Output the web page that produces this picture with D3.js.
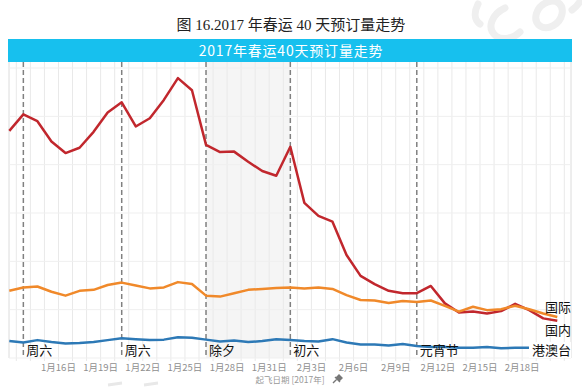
<!DOCTYPE html>
<html><head><meta charset="utf-8">
<script src="https://cdn.jsdelivr.net/npm/d3@7"></script>
<style>body{margin:0;background:#fff}svg{display:block}</style>
</head><body>
<svg id="c" width="582" height="389"></svg>
<script>
const dates = ["2017-01-13","2017-01-14","2017-01-15","2017-01-16","2017-01-17","2017-01-18","2017-01-19","2017-01-20","2017-01-21","2017-01-22",
"2017-01-23","2017-01-24","2017-01-25","2017-01-26","2017-01-27","2017-01-28","2017-01-29","2017-01-30","2017-01-31","2017-02-01",
"2017-02-02","2017-02-03","2017-02-04","2017-02-05","2017-02-06","2017-02-07","2017-02-08","2017-02-09","2017-02-10","2017-02-11",
"2017-02-12","2017-02-13","2017-02-14","2017-02-15","2017-02-16","2017-02-17","2017-02-18","2017-02-19","2017-02-20","2017-02-21"];
const domestic = [47.0,50.4,49.0,44.8,42.4,43.5,46.8,50.8,52.9,47.9,49.6,53.4,57.9,55.4,44.1,42.6,42.7,40.6,38.7,37.7,
43.7,32.1,29.4,28.2,21.3,17.0,15.3,13.9,13.4,13.4,14.9,11.3,9.4,9.6,9.2,9.7,11.2,9.9,8.2,7.7];
const international = [13.9,14.6,14.8,13.7,12.9,13.9,14.1,15.1,15.6,15.0,14.4,14.6,15.7,15.3,12.9,12.7,13.4,14.1,14.3,14.5,
14.6,14.4,14.6,14.3,13.0,12.0,11.9,11.4,11.8,11.6,11.9,10.8,9.6,10.6,9.9,10.1,10.8,10.1,9.2,8.5];
const hkMacauTw = [3.5,3.2,3.7,3.3,3.0,3.1,3.3,3.7,4.1,3.9,3.7,3.8,4.3,4.2,3.8,3.4,3.6,3.3,3.5,3.9,
3.7,3.5,3.4,3.9,3.2,2.8,2.8,2.6,2.9,2.5,2.3,2.3,2.1,2.1,2.3,2.0,2.1,2.1,2.0,2.0];
const seriesNames = ["国际","国内","港澳台"];
const events = [["2017-01-14","周六"],["2017-01-21","周六"],["2017-01-27","除夕"],["2017-02-02","初六"],["2017-02-11","元宵节"]];
const tickDates = ["2017-01-16","2017-01-19","2017-01-22","2017-01-25","2017-01-28","2017-01-31","2017-02-03","2017-02-06","2017-02-09","2017-02-12","2017-02-15","2017-02-18"];
const yTicks = [0,10,20,30,40,50,60];
const shadeRange = ["2017-01-27","2017-02-02"];

const parse = d3.utcParse("%Y-%m-%d");
const fmtTick = d => (d.getUTCMonth()+1) + "月" + d.getUTCDate() + "日";
const svg = d3.select("#c");
const plotL = 9, plotR = 571, plotT = 62, plotB = 358;
const x = d3.scaleUtc().domain([parse(dates[0]), parse(dates[dates.length-1])]).range([9.3, 557.3]);
const half = (x(parse(dates[1])) - x(parse(dates[0]))) / 2;
const y = d3.scaleLinear().domain([0, 60]).range([358, 68]);

// faint watermark strokes (decorative)
const wm = svg.append("g").attr("fill","none").attr("stroke","#efefef").attr("stroke-width",7).attr("stroke-linecap","round");
wm.append("path").attr("d","M505,8 C492,14 486,28 496,36 C503,41 514,38 520,32");
wm.append("path").attr("d","M548,2 C536,6 532,20 540,26 C548,31 560,24 562,14 C564,4 556,-1 548,2");
wm.append("path").attr("d","M478,4 C474,12 474,20 480,24");
wm.append("path").attr("d","M572,10 C578,6 581,0 582,-2");
const wm2 = svg.append("g").attr("fill","none").attr("stroke","#e8e8e8").attr("stroke-width",3);
wm2.append("path").attr("d","M108,385 L122,383");
wm2.append("path").attr("d","M144,385 L158,383");

// title
svg.append("text").attr("x",291).attr("y",30).attr("text-anchor","middle")
  .attr("font-family","'Liberation Serif','Noto Sans CJK SC',serif").attr("font-size",15).attr("fill","#222")
  .text("图 16.2017 年春运 40 天预订量走势");

// blue header
svg.append("rect").attr("x",8).attr("y",39).attr("width",564).attr("height",23).attr("fill","#17c0ee");
svg.append("text").attr("x",291).attr("y",55.5).attr("text-anchor","middle")
  .attr("font-family","'Noto Sans CJK SC',sans-serif").attr("font-size",14).attr("letter-spacing",0.8).attr("fill","#fff")
  .text("2017年春运40天预订量走势");

// shaded band
svg.append("rect").attr("x",x(parse(shadeRange[0]))).attr("y",plotT)
  .attr("width",x(parse(shadeRange[1]))-x(parse(shadeRange[0]))).attr("height",plotB-plotT).attr("fill","#f5f5f5");

// vertical gridlines at half days
const gx = svg.append("g");
dates.forEach(d => {
  const xv = x(parse(d)) + half;
  if (xv < plotR) gx.append("line").attr("x1",xv).attr("x2",xv).attr("y1",plotT).attr("y2",plotB+3)
    .attr("stroke","#e9e9e9").attr("stroke-width",1);
});
gx.append("line").attr("x1",plotL).attr("x2",plotL).attr("y1",plotT).attr("y2",plotB).attr("stroke","#dcdcdc");
gx.append("line").attr("x1",plotR).attr("x2",plotR).attr("y1",plotT).attr("y2",plotB).attr("stroke","#dcdcdc");
// horizontal gridlines
svg.append("g").selectAll("line").data(yTicks).join("line")
  .attr("x1",plotL).attr("x2",plotR).attr("y1",d=>y(d)).attr("y2",d=>y(d))
  .attr("stroke","#efefef").attr("stroke-width",1);

// x axis tick labels
svg.append("g").selectAll("text").data(tickDates).join("text")
  .attr("x",d=>x(parse(d))+half).attr("y",371).attr("text-anchor","middle")
  .attr("font-family","'Noto Sans CJK SC',sans-serif").attr("font-size",9.5).attr("fill","#8f8f8f")
  .text(d=>fmtTick(parse(d)));
svg.append("text").attr("x",290).attr("y",383).attr("text-anchor","middle")
  .attr("font-family","'Noto Sans CJK SC',sans-serif").attr("font-size",8.5).attr("fill","#999")
  .text("起飞日期 [2017年]");
// pin icon
svg.append("path").attr("d","M333,383 L337,379 M335,377 L340,382 M336,378 L339,375 L342,378 L339,381 Z")
  .attr("stroke","#777").attr("stroke-width",1.4).attr("fill","#777");

// dashed event lines
svg.append("g").selectAll("line").data(events).join("line")
  .attr("x1",d=>x(parse(d[0]))).attr("x2",d=>x(parse(d[0]))).attr("y1",plotT).attr("y2",plotB)
  .attr("stroke","#808080").attr("stroke-width",1.5).attr("stroke-dasharray","5,3");

// lines
const line = d3.line().x((d,i)=>x(parse(dates[i]))).y(d=>y(d)).curve(d3.curveLinear);
const series = [[international,"#f0892a"],[domestic,"#c1272d"],[hkMacauTw,"#2d79b6"]];
series.slice().reverse().forEach(([vals,col]) => {
  svg.append("path").datum(vals).attr("d",line).attr("fill","none").attr("stroke",col)
    .attr("stroke-width",2.5).attr("stroke-linejoin","round");
});

// event labels
svg.append("g").selectAll("text").data(events).join("text")
  .attr("x",d=>x(parse(d[0]))+3).attr("y",355).attr("font-family","'Noto Sans CJK SC',sans-serif")
  .attr("font-size",13).attr("fill","#111").text(d=>d[1]);

// series end labels
svg.append("rect").attr("x",529).attr("y",342).attr("width",42).attr("height",16).attr("fill","#fff");
const endLabels = [[seriesNames[0],571,312],[seriesNames[1],571,335],[seriesNames[2],571,355]];
svg.append("g").selectAll("text").data(endLabels).join("text")
  .attr("x",d=>d[1]).attr("y",d=>d[2]).attr("text-anchor","end")
  .attr("font-family","'Noto Sans CJK SC',sans-serif").attr("font-size",13).attr("fill","#111").text(d=>d[0]);
</script>
</body></html>
